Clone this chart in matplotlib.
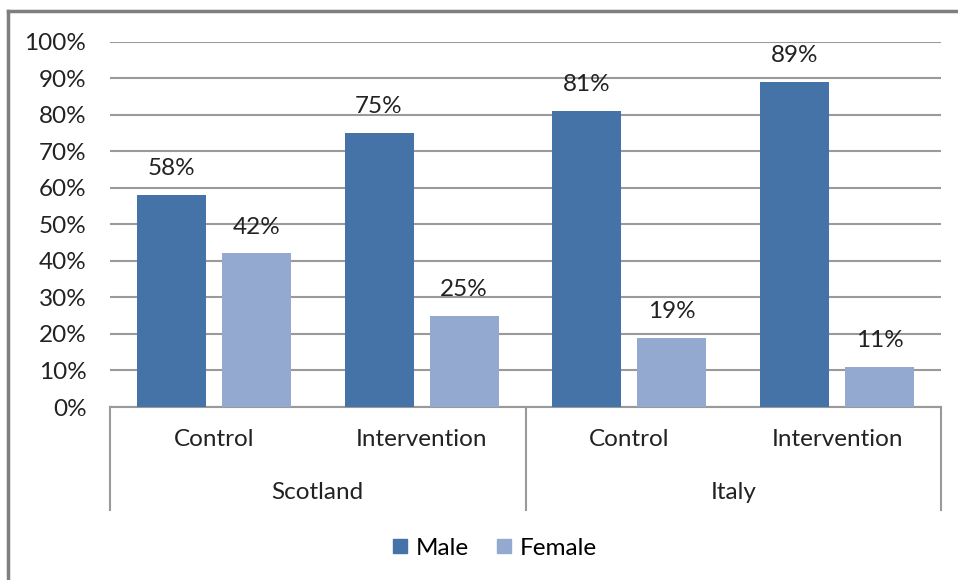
import numpy as np
import matplotlib
matplotlib.use('Agg')
import matplotlib.pyplot as plt
from matplotlib.lines import Line2D

# share of participants by sex, per country and study arm
countries = ['Scotland', 'Italy']
arms = ['Control', 'Intervention', 'Control', 'Intervention']
male = [58, 75, 81, 89]
female = [42, 25, 19, 11]
yticks = [0, 10, 20, 30, 40, 50, 60, 70, 80, 90, 100]

male_color = '#4572A7'
female_color = '#93A9CF'
grid_color = '#9a9a9a'
text_color = '#222222'

plt.rcParams['font.family'] = ['Lato', 'DejaVu Sans']
fs = 17.5

fig = plt.figure(figsize=(9.58, 5.8), dpi=100)
ax = fig.add_axes([110 / 958, 173 / 580, 831 / 958, 365.5 / 580])

x = np.arange(len(arms))
width = 0.332
off = 0.205

ax.bar(x - off, male, width, color=male_color, zorder=3, label='Male')
ax.bar(x + off, female, width, color=female_color, zorder=3, label='Female')

for xi, m, f in zip(x, male, female):
    ax.annotate(f'{m}%', (xi - off, m), xytext=(0, 19), textcoords='offset points',
                ha='center', va='center', fontsize=fs, color=text_color)
    ax.annotate(f'{f}%', (xi + off, f), xytext=(0, 19), textcoords='offset points',
                ha='center', va='center', fontsize=fs, color=text_color)

ax.set_xlim(-0.5, len(arms) - 0.5)
ax.set_ylim(0, 100)
ax.set_yticks(yticks)
ax.set_yticklabels([f'{t}%' for t in yticks], fontsize=fs, color=text_color)
ax.tick_params(axis='y', length=0, pad=17)
ax.set_xticks([])
ax.yaxis.grid(True, color=grid_color, linewidth=1.5, zorder=0)
for s in ['left', 'right', 'top']:
    ax.spines[s].set_visible(False)
ax.spines['bottom'].set_color(grid_color)
ax.spines['bottom'].set_linewidth(1.5)

# two-level category axis
tr = ax.get_xaxis_transform()
for xv in [-0.5, 1.5, 3.5]:
    ax.add_line(Line2D([xv, xv], [0, -0.282], transform=tr, color=grid_color,
                       linewidth=1.5, clip_on=False))
for xi, a in zip(x, arms):
    ax.text(xi, -0.09, a, transform=tr, ha='center', va='center', fontsize=fs, color=text_color)
for i, c in enumerate(countries):
    ax.text(2 * i + 0.5, -0.233, c, transform=tr, ha='center', va='center', fontsize=fs, color=text_color)

handles = [Line2D([], [], marker='s', linestyle='', markersize=10, color=male_color),
           Line2D([], [], marker='s', linestyle='', markersize=10, color=female_color)]
fig.legend(handles, ['Male', 'Female'], loc='center', bbox_to_anchor=(494 / 958, 1 - 548 / 580),
           ncol=2, frameon=False, fontsize=fs, handlelength=0.7, handletextpad=0.3,
           columnspacing=1.1)

# outer chart frame (left and top edges)
fig.add_artist(Line2D([8 / 958, 8 / 958], [0, 1 - 11 / 580], transform=fig.transFigure,
                      color='#7f7f7f', linewidth=2.5))
fig.add_artist(Line2D([8 / 958, 1], [1 - 11 / 580, 1 - 11 / 580], transform=fig.transFigure,
                      color='#7f7f7f', linewidth=2.5))

fig.savefig('out.png', dpi=100)
